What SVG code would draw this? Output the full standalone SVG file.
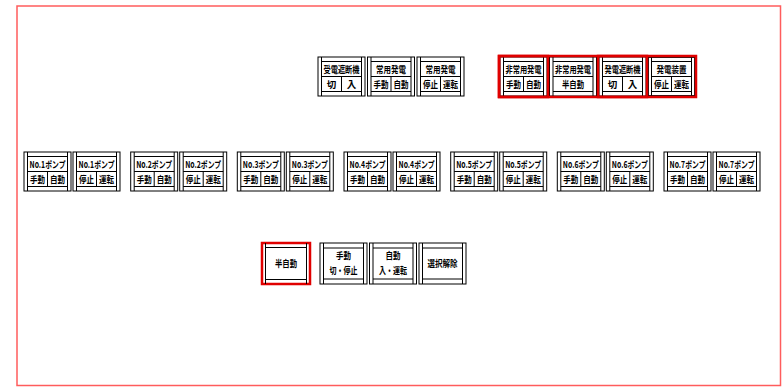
<svg xmlns="http://www.w3.org/2000/svg" width="784" height="387" viewBox="0 0 784 387">
<style>
.o{fill:#fff;stroke:#000;stroke-width:1}
.l{stroke:#000;stroke-width:1;fill:none}
.hl{fill:none;stroke:#e00000;stroke-width:2.5}
text{font-family:"Noto Sans CJK JP","Noto Sans",sans-serif;font-size:9.5px;font-weight:bold;text-anchor:middle;fill:#000}
</style>
<defs>
<g id="frame2">
<rect class="o" x="0" y="0" width="47" height="39"/>
<path class="l" d="M3.5,0V39M43.5,0V39M3.5,4.5H43.5M3.5,34.5H43.5M3.5,19.5H43.5M23.5,19.5V34.5"/>
</g>
<g id="frame1">
<rect class="o" x="0" y="0" width="47" height="39"/>
<path class="l" d="M3.5,0V39M43.5,0V39M3.5,4.5H43.5M3.5,34.5H43.5M3.5,19.5H43.5"/>
</g>
<g id="frameB">
<rect class="o" x="0" y="0" width="47" height="41"/>
<path class="l" d="M3.5,0V41M43.5,0V41M3.5,5H43.5M3.5,36H43.5"/>
</g>
</defs>
<rect x="17" y="6" width="763.5" height="379.5" fill="#fff" stroke="#ff5c5c" stroke-width="1.5"/>

<g id="top-receive-breaker" transform="translate(318,57)"><use href="#frame2"/><text x="23.5" y="15.5" textLength="36" lengthAdjust="spacingAndGlyphs">受電遮断機</text><text x="13.5" y="30.5">切</text><text x="33.5" y="30.5">入</text></g>
<g id="top-normal-gen-mode" transform="translate(367.5,57)"><use href="#frame2"/><text x="23.5" y="15.5" textLength="30" lengthAdjust="spacingAndGlyphs">常用発電</text><text x="13.5" y="30.5" textLength="15" lengthAdjust="spacingAndGlyphs">手動</text><text x="33.5" y="30.5" textLength="15" lengthAdjust="spacingAndGlyphs">自動</text></g>
<g id="top-normal-gen-run" transform="translate(417,57)"><use href="#frame2"/><text x="23.5" y="15.5" textLength="30" lengthAdjust="spacingAndGlyphs">常用発電</text><text x="13.5" y="30.5" textLength="15" lengthAdjust="spacingAndGlyphs">停止</text><text x="33.5" y="30.5" textLength="15" lengthAdjust="spacingAndGlyphs">運転</text></g>

<g id="top-emerg-gen-mode" transform="translate(500,57)"><use href="#frame2"/><text x="23.5" y="15.5" textLength="36" lengthAdjust="spacingAndGlyphs">非常用発電</text><text x="13.5" y="30.5" textLength="15" lengthAdjust="spacingAndGlyphs">手動</text><text x="33.5" y="30.5" textLength="15" lengthAdjust="spacingAndGlyphs">自動</text></g>
<g id="top-emerg-gen-semi" transform="translate(549.5,57)"><use href="#frame1"/><text x="23.5" y="15.5" textLength="36" lengthAdjust="spacingAndGlyphs">非常用発電</text><text x="23.5" y="30.5" textLength="22" lengthAdjust="spacingAndGlyphs">半自動</text></g>
<g id="top-gen-breaker" transform="translate(599,57)"><use href="#frame2"/><text x="23.5" y="15.5" textLength="36" lengthAdjust="spacingAndGlyphs">発電遮断機</text><text x="13.5" y="30.5">切</text><text x="33.5" y="30.5">入</text></g>
<g id="top-gen-unit" transform="translate(648,57)"><use href="#frame2"/><rect x="0" y="0" width="47" height="39" fill="none" stroke="#000" stroke-width="1.6"/><text x="23.5" y="15.5" textLength="30" lengthAdjust="spacingAndGlyphs">発電装置</text><text x="13.5" y="30.5" textLength="15" lengthAdjust="spacingAndGlyphs">停止</text><text x="33.5" y="30.5" textLength="15" lengthAdjust="spacingAndGlyphs">運転</text></g>
<g id="top-highlight">
<rect class="hl" x="499" y="56" width="197" height="41"/>
<rect class="hl" x="499" y="56" width="49" height="41"/>
<rect class="hl" x="598" y="56" width="49" height="41"/>
</g>

<g id="pump1-mode" transform="translate(24,152)"><use href="#frame2"/><text x="23.5" y="15.5" textLength="36" lengthAdjust="spacingAndGlyphs">No.1ポンプ</text><text x="13.5" y="30.5" textLength="15" lengthAdjust="spacingAndGlyphs">手動</text><text x="33.5" y="30.5" textLength="15" lengthAdjust="spacingAndGlyphs">自動</text></g>
<g id="pump1-run" transform="translate(73,152)"><use href="#frame2"/><text x="23.5" y="15.5" textLength="36" lengthAdjust="spacingAndGlyphs">No.1ポンプ</text><text x="13.5" y="30.5" textLength="15" lengthAdjust="spacingAndGlyphs">停止</text><text x="33.5" y="30.5" textLength="15" lengthAdjust="spacingAndGlyphs">運転</text></g>
<g id="pump2-mode" transform="translate(130.7,152)"><use href="#frame2"/><text x="23.5" y="15.5" textLength="36" lengthAdjust="spacingAndGlyphs">No.2ポンプ</text><text x="13.5" y="30.5" textLength="15" lengthAdjust="spacingAndGlyphs">手動</text><text x="33.5" y="30.5" textLength="15" lengthAdjust="spacingAndGlyphs">自動</text></g>
<g id="pump2-run" transform="translate(179.7,152)"><use href="#frame2"/><text x="23.5" y="15.5" textLength="36" lengthAdjust="spacingAndGlyphs">No.2ポンプ</text><text x="13.5" y="30.5" textLength="15" lengthAdjust="spacingAndGlyphs">停止</text><text x="33.5" y="30.5" textLength="15" lengthAdjust="spacingAndGlyphs">運転</text></g>
<g id="pump3-mode" transform="translate(237.3,152)"><use href="#frame2"/><text x="23.5" y="15.5" textLength="36" lengthAdjust="spacingAndGlyphs">No.3ポンプ</text><text x="13.5" y="30.5" textLength="15" lengthAdjust="spacingAndGlyphs">手動</text><text x="33.5" y="30.5" textLength="15" lengthAdjust="spacingAndGlyphs">自動</text></g>
<g id="pump3-run" transform="translate(286.3,152)"><use href="#frame2"/><text x="23.5" y="15.5" textLength="36" lengthAdjust="spacingAndGlyphs">No.3ポンプ</text><text x="13.5" y="30.5" textLength="15" lengthAdjust="spacingAndGlyphs">停止</text><text x="33.5" y="30.5" textLength="15" lengthAdjust="spacingAndGlyphs">運転</text></g>
<g id="pump4-mode" transform="translate(344,152)"><use href="#frame2"/><text x="23.5" y="15.5" textLength="36" lengthAdjust="spacingAndGlyphs">No.4ポンプ</text><text x="13.5" y="30.5" textLength="15" lengthAdjust="spacingAndGlyphs">手動</text><text x="33.5" y="30.5" textLength="15" lengthAdjust="spacingAndGlyphs">自動</text></g>
<g id="pump4-run" transform="translate(393,152)"><use href="#frame2"/><text x="23.5" y="15.5" textLength="36" lengthAdjust="spacingAndGlyphs">No.4ポンプ</text><text x="13.5" y="30.5" textLength="15" lengthAdjust="spacingAndGlyphs">停止</text><text x="33.5" y="30.5" textLength="15" lengthAdjust="spacingAndGlyphs">運転</text></g>
<g id="pump5-mode" transform="translate(450.7,152)"><use href="#frame2"/><text x="23.5" y="15.5" textLength="36" lengthAdjust="spacingAndGlyphs">No.5ポンプ</text><text x="13.5" y="30.5" textLength="15" lengthAdjust="spacingAndGlyphs">手動</text><text x="33.5" y="30.5" textLength="15" lengthAdjust="spacingAndGlyphs">自動</text></g>
<g id="pump5-run" transform="translate(499.7,152)"><use href="#frame2"/><text x="23.5" y="15.5" textLength="36" lengthAdjust="spacingAndGlyphs">No.5ポンプ</text><text x="13.5" y="30.5" textLength="15" lengthAdjust="spacingAndGlyphs">停止</text><text x="33.5" y="30.5" textLength="15" lengthAdjust="spacingAndGlyphs">運転</text></g>
<g id="pump6-mode" transform="translate(557.3,152)"><use href="#frame2"/><text x="23.5" y="15.5" textLength="36" lengthAdjust="spacingAndGlyphs">No.6ポンプ</text><text x="13.5" y="30.5" textLength="15" lengthAdjust="spacingAndGlyphs">手動</text><text x="33.5" y="30.5" textLength="15" lengthAdjust="spacingAndGlyphs">自動</text></g>
<g id="pump6-run" transform="translate(606.3,152)"><use href="#frame2"/><text x="23.5" y="15.5" textLength="36" lengthAdjust="spacingAndGlyphs">No.6ポンプ</text><text x="13.5" y="30.5" textLength="15" lengthAdjust="spacingAndGlyphs">停止</text><text x="33.5" y="30.5" textLength="15" lengthAdjust="spacingAndGlyphs">運転</text></g>
<g id="pump7-mode" transform="translate(664,152)"><use href="#frame2"/><text x="23.5" y="15.5" textLength="36" lengthAdjust="spacingAndGlyphs">No.7ポンプ</text><text x="13.5" y="30.5" textLength="15" lengthAdjust="spacingAndGlyphs">手動</text><text x="33.5" y="30.5" textLength="15" lengthAdjust="spacingAndGlyphs">自動</text></g>
<g id="pump7-run" transform="translate(713,152)"><use href="#frame2"/><text x="23.5" y="15.5" textLength="36" lengthAdjust="spacingAndGlyphs">No.7ポンプ</text><text x="13.5" y="30.5" textLength="15" lengthAdjust="spacingAndGlyphs">停止</text><text x="33.5" y="30.5" textLength="15" lengthAdjust="spacingAndGlyphs">運転</text></g>

<g id="btn-semi-auto" transform="translate(262,243)">
<rect x="0" y="0" width="48" height="41" fill="#fff" stroke="#e00000" stroke-width="2.5"/>
<path class="l" d="M3.5,0V41M44.5,0V41M3.5,4.5H44.5M3.5,36.5H44.5"/>
<text x="24" y="24" textLength="22" lengthAdjust="spacingAndGlyphs">半自動</text>
</g>
<g id="btn-manual" transform="translate(320,243)"><use href="#frameB"/><text x="23.5" y="16" textLength="15" lengthAdjust="spacingAndGlyphs">手動</text><text x="23.5" y="31" textLength="28" lengthAdjust="spacingAndGlyphs">切・停止</text></g>
<g id="btn-auto" transform="translate(369.5,243)"><use href="#frameB"/><text x="23.5" y="16" textLength="15" lengthAdjust="spacingAndGlyphs">自動</text><text x="23.5" y="31" textLength="28" lengthAdjust="spacingAndGlyphs">入・運転</text></g>
<g id="btn-clear" transform="translate(419,243)"><use href="#frameB"/><text x="23.5" y="24" textLength="30" lengthAdjust="spacingAndGlyphs">選択解除</text></g>
<g id="connectors"/>
</svg>
